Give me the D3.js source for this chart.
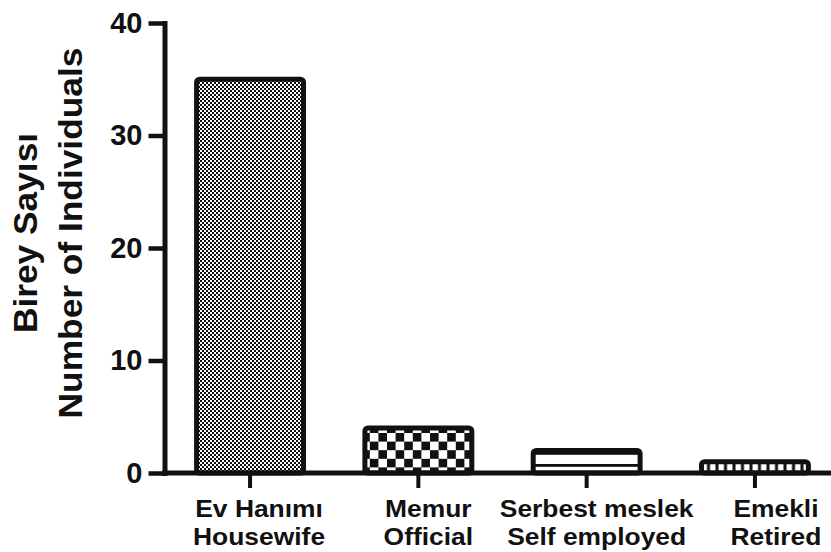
<!DOCTYPE html>
<html>
<head>
<meta charset="utf-8">
<script src="https://cdn.jsdelivr.net/npm/d3@7"></script>
<style>
  html, body { margin: 0; padding: 0; background: #fff; }
  svg { display: block; }
  text { font-family: "Liberation Sans", Arial, sans-serif; font-weight: bold; fill: #111; }
</style>
</head>
<body>
<svg id="chart" width="831" height="552"></svg>
<script>
// Occupation categories (Turkish / English) and counts
const categoriesTr = ["Ev Hanımı", "Memur", "Serbest meslek", "Emekli"];
const categoriesEn = ["Housewife", "Official", "Self employed", "Retired"];
const counts = [35, 4, 2, 1];
const fillPatterns = ["dots", "checker", "stripe", "blocks"];
const yTicks = [0, 10, 20, 30, 40];
const yTitle = ["Birey Sayısı", "Number of Individuals"];

const svg = d3.select("#chart");
const W = 831, H = 552;

const y = d3.scaleLinear().domain([0, 40]).range([473, 23]);
const x = d3.scaleBand()
  .domain(categoriesTr)
  .range([166, 839])
  .paddingInner(0.335)
  .paddingOuter(0.167);

// Fill patterns for the bars
const defs = svg.append("defs");

// fine dotted grey texture
const pDots = defs.append("pattern").attr("id", "dots")
  .attr("patternUnits", "userSpaceOnUse").attr("width", 4).attr("height", 4);
pDots.append("rect").attr("width", 4).attr("height", 4).attr("fill", "#fff");
pDots.append("rect").attr("width", 2).attr("height", 2).attr("fill", "#111");
pDots.append("rect").attr("x", 2).attr("y", 2).attr("width", 2).attr("height", 2).attr("fill", "#111");

// coarse checkerboard
const cs = 8.6;
const pChk = defs.append("pattern").attr("id", "checker")
  .attr("patternUnits", "userSpaceOnUse").attr("width", cs * 2).attr("height", cs * 2)
  .attr("patternTransform", "translate(0,433)");
pChk.append("rect").attr("width", cs * 2).attr("height", cs * 2).attr("fill", "#fff");
pChk.append("rect").attr("width", cs).attr("height", cs).attr("fill", "#111");
pChk.append("rect").attr("x", cs).attr("y", cs).attr("width", cs).attr("height", cs).attr("fill", "#111");

// horizontal rule stripes
const pStr = defs.append("pattern").attr("id", "stripe")
  .attr("patternUnits", "userSpaceOnUse").attr("width", 10).attr("height", 12);
pStr.append("rect").attr("width", 10).attr("height", 12).attr("fill", "#fff");
pStr.append("rect").attr("y", 8).attr("width", 10).attr("height", 2.8).attr("fill", "#111");

// row of small white blocks on black
const pBlk = defs.append("pattern").attr("id", "blocks")
  .attr("patternUnits", "userSpaceOnUse").attr("width", 8.5).attr("height", 20)
  .attr("patternTransform", "translate(700,0)");
pBlk.append("rect").attr("width", 8.5).attr("height", 20).attr("fill", "#111");
pBlk.append("rect").attr("x", 1.5).attr("width", 5.5).attr("height", 20).attr("fill", "#fff");

// Bars
const sw = 5;
svg.append("g").selectAll("rect")
  .data(counts)
  .join("rect")
  .attr("x", (d, i) => x(categoriesTr[i]) + sw / 2)
  .attr("width", x.bandwidth() - sw)
  .attr("y", d => y(d))
  .attr("height", d => y(0) - y(d))
  .attr("rx", 3)
  .attr("fill", (d, i) => `url(#${fillPatterns[i]})`)
  .attr("stroke", "#111")
  .attr("stroke-width", sw);

// Y axis
const yAxis = svg.append("g")
  .attr("transform", "translate(164.5,0)")
  .call(d3.axisLeft(y).tickValues(yTicks).tickSize(16).tickSizeOuter(0).tickPadding(6));
yAxis.select(".domain").attr("stroke", "#111").attr("stroke-width", 5).attr("stroke-linecap", "square");
yAxis.selectAll(".tick line").attr("stroke", "#111").attr("stroke-width", 4.5);
yAxis.selectAll(".tick text")
  .attr("font-family", "Liberation Sans, Arial, sans-serif")
  .attr("font-weight", "bold")
  .attr("font-size", 29)
  .attr("fill", "#111");

// X axis
const xAxis = svg.append("g")
  .attr("transform", `translate(0,${y(0)})`)
  .call(d3.axisBottom(x).tickSize(15).tickSizeOuter(0).tickFormat(""));
xAxis.select(".domain").attr("stroke", "#111").attr("stroke-width", 5)
  .attr("d", `M162,0H${W}`);
xAxis.selectAll(".tick line").attr("stroke", "#111").attr("stroke-width", 4);

// Two-line category labels, slightly widened
const labelNudge = [9, 10, 10, 21];
const stretch = 1.1;
const lab = svg.append("g").selectAll("g")
  .data(categoriesTr)
  .join("g")
  .attr("transform", (d, i) => `translate(${x(d) + x.bandwidth() / 2 + labelNudge[i]},0)`);
lab.append("text").attr("y", 517).attr("text-anchor", "middle").attr("font-size", 24)
  .text(d => d);
lab.append("text").attr("y", 545).attr("text-anchor", "middle").attr("font-size", 24)
  .text((d, i) => categoriesEn[i]);
lab.selectAll("text").each(function () {
  const len = this.getComputedTextLength();
  d3.select(this).attr("textLength", len * stretch).attr("lengthAdjust", "spacingAndGlyphs");
});

// Y axis title, two rotated lines
const tStretch = 1.07;
const titleX = [37, 82];
yTitle.forEach((t, i) => {
  const el = svg.append("text")
    .attr("transform", `translate(${titleX[i]},233) rotate(-90)`)
    .attr("text-anchor", "middle")
    .attr("font-size", 33)
    .text(t);
  const len = el.node().getComputedTextLength();
  el.attr("textLength", len * tStretch).attr("lengthAdjust", "spacingAndGlyphs");
});
</script>
</body>
</html>
